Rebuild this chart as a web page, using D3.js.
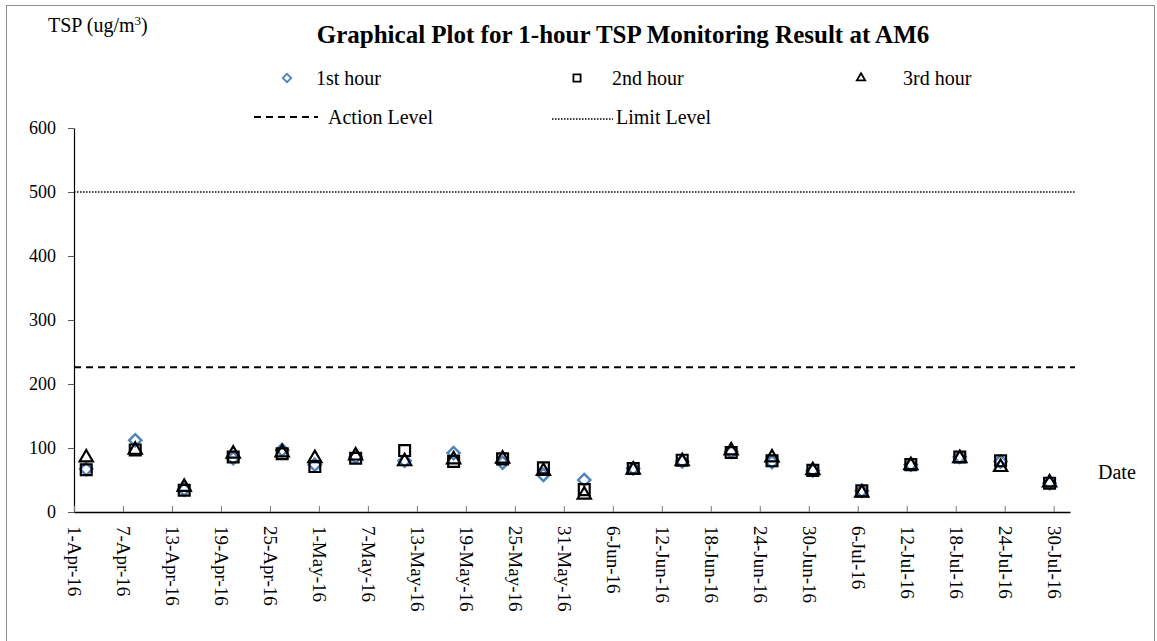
<!DOCTYPE html>
<html>
<head>
<meta charset="utf-8">
<script src="https://cdn.jsdelivr.net/npm/d3@7"></script>
<style>
    body { margin: 0; background: #fff; }
    svg text { font-family: "Liberation Serif", "Times New Roman", serif; fill: #000; }
</style>
</head>
<body>
<div id="chart"></div>
<script>

var sampleDates = ["2016-04-02", "2016-04-08", "2016-04-14", "2016-04-20", "2016-04-26", "2016-04-30",
    "2016-05-05", "2016-05-11", "2016-05-17", "2016-05-23", "2016-05-28", "2016-06-02",
    "2016-06-08", "2016-06-14", "2016-06-20", "2016-06-25", "2016-06-30", "2016-07-06",
    "2016-07-12", "2016-07-18", "2016-07-23", "2016-07-29"];

var firstHour  = [67, 112, 35, 84, 97, 74, 86, 80, 92, 77, 58, 50, 68, 79, 94, 78, 65, 33, 74, 86, 79, 45];
var secondHour = [66, 97, 34, 86, 91, 71, 84, 96, 79, 83, 69, 35, 68, 81, 93, 80, 65, 33, 74, 86, 80, 45];
var thirdHour  = [85, 97, 39, 91, 93, 84, 88, 79, 82, 83, 64, 27, 66, 79, 96, 85, 65, 30, 73, 84, 70, 46];

var actionLevel = 226;
var limitLevel = 500;

var yTicks = [0, 100, 200, 300, 400, 500, 600];
var axisStart = "2016-04-01", axisEnd = "2016-08-01";

var width = 1157, height = 641;
var margin = {left: 74, right: 87, top: 128, bottom: 129};

var parse = d3.utcParse("%Y-%m-%d");
var fmt = d3.utcFormat("%-d-%b-%y");

var svg = d3.select("#chart").append("svg")
    .attr("width", width)
    .attr("height", height)
    .attr("font-family", '"Liberation Serif", serif');

// outer frame
svg.append("rect")
    .attr("x", 6.5).attr("y", 5.5)
    .attr("width", 1148).attr("height", 650)
    .attr("fill", "none")
    .attr("stroke", "#8c8c8c")
    .attr("stroke-width", 1);

var x = d3.scaleUtc()
    .domain([parse(axisStart), parse(axisEnd)])
    .range([margin.left, width - margin.right]);

var y = d3.scaleLinear()
    .domain([0, 600])
    .range([height - margin.bottom, margin.top]);

// points sit in the middle of their day, like the spreadsheet date axis
function xDay(s) {
    return x(d3.utcHour.offset(parse(s), 12));
}

// y axis
var yAxis = svg.append("g")
    .attr("transform", "translate(" + margin.left + ",0)")
    .call(d3.axisLeft(y).tickValues(yTicks).tickSize(6).tickSizeOuter(0).tickPadding(12));
yAxis.select(".domain").attr("stroke", "#000").attr("stroke-width", 1.2);
yAxis.selectAll(".tick line").attr("stroke", "#555");
yAxis.selectAll(".tick text")
    .style("font-family", '"Liberation Serif", serif')
    .style("font-size", "18px")
    .attr("fill", "#000");

// x axis, ticks every 6 days pointing inward
var xTickDates = d3.utcDay.range(parse(axisStart), d3.utcDay.offset(parse(axisEnd), -1), 6);
var xAxis = svg.append("g")
    .attr("transform", "translate(0," + y(0) + ")")
    .call(d3.axisBottom(x).tickValues(xTickDates).tickFormat(fmt).tickSize(-6).tickSizeOuter(0));
xAxis.select(".domain").attr("stroke", "#000").attr("stroke-width", 1.5);
xAxis.selectAll(".tick line").attr("stroke", "#777");
xAxis.selectAll(".tick text")
    .style("font-family", '"Liberation Serif", serif')
    .style("font-size", "19px")
    .attr("fill", "#000")
    .attr("text-anchor", "start")
    .attr("dy", "0.35em")
    .attr("transform", "translate(0,14) rotate(90)")
    .attr("x", 0).attr("y", 0);

// level lines
svg.append("line")
    .attr("x1", margin.left).attr("x2", 1075)
    .attr("y1", y(actionLevel)).attr("y2", y(actionLevel))
    .attr("stroke", "#000").attr("stroke-width", 2)
    .attr("stroke-dasharray", "7,5");

svg.append("line")
    .attr("x1", margin.left).attr("x2", 1075)
    .attr("y1", y(limitLevel)).attr("y2", y(limitLevel))
    .attr("stroke", "#000").attr("stroke-width", 1.5)
    .attr("stroke-dasharray", "1.5,1.5");

var diamond = d3.symbol().type(d3.symbolDiamond2);
var square = d3.symbol().type(d3.symbolSquare2);
var triangle = d3.symbol().type(d3.symbolTriangle2);

function drawSeries(values, gen, size, color, sw) {
    svg.append("g").selectAll("path")
        .data(values)
        .enter()
        .append("path")
        .attr("d", gen.size(size)())
        .attr("transform", function (d, i) {
            return "translate(" + xDay(sampleDates[i]) + "," + y(d) + ")";
        })
        .attr("fill", "none")
        .attr("stroke", color)
        .attr("stroke-width", sw);
}

drawSeries(firstHour, diamond, 95, "#4f81bd", 2.4);
drawSeries(secondHour, square, 150, "#000", 2.2);
drawSeries(thirdHour, triangle, 125, "#000", 2.2);

// title and labels
svg.append("text")
    .attr("x", 623).attr("y", 43)
    .attr("text-anchor", "middle")
    .style("font-size", "25px")
    .style("font-weight", "bold")
    .text("Graphical Plot for 1-hour TSP Monitoring Result at AM6");

var yl = svg.append("text")
    .attr("x", 48).attr("y", 32)
    .style("font-size", "20px");
yl.append("tspan").text("TSP (ug/m");
yl.append("tspan").attr("dy", -7).style("font-size", "13px").text("3");
yl.append("tspan").attr("dy", 7).text(")");

svg.append("text")
    .attr("x", 1098).attr("y", 479)
    .style("font-size", "20px")
    .text("Date");

// legend
var legendSeries = [
    {name: "1st hour", gen: diamond, size: 45, color: "#4f81bd", mx: 287, tx: 316},
    {name: "2nd hour", gen: square, size: 65, color: "#000", mx: 577, tx: 612},
    {name: "3rd hour", gen: triangle, size: 50, color: "#000", mx: 861, tx: 903}
];
var legendY1 = 78, legendY2 = 117;

legendSeries.forEach(function (one) {
    svg.append("path")
        .attr("d", one.gen.size(one.size)())
        .attr("transform", "translate(" + one.mx + "," + legendY1 + ")")
        .attr("fill", "none")
        .attr("stroke", one.color)
        .attr("stroke-width", 1.8);
    svg.append("text")
        .attr("x", one.tx).attr("y", legendY1 + 7)
        .style("font-size", "20px")
        .text(one.name);
});

svg.append("line")
    .attr("x1", 254).attr("x2", 318)
    .attr("y1", legendY2).attr("y2", legendY2)
    .attr("stroke", "#000").attr("stroke-width", 2)
    .attr("stroke-dasharray", "7,5");
svg.append("text")
    .attr("x", 328).attr("y", legendY2 + 7)
    .style("font-size", "20px")
    .text("Action Level");

svg.append("line")
    .attr("x1", 552).attr("x2", 613)
    .attr("y1", legendY2 + 2).attr("y2", legendY2 + 2)
    .attr("stroke", "#000").attr("stroke-width", 1.5)
    .attr("stroke-dasharray", "1.5,1.5");
svg.append("text")
    .attr("x", 616).attr("y", legendY2 + 7)
    .style("font-size", "20px")
    .text("Limit Level");

</script>
</body>
</html>
